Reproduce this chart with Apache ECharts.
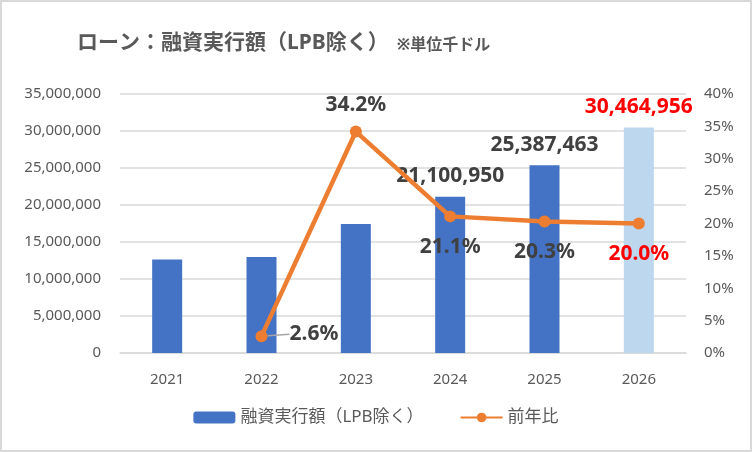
<!DOCTYPE html>
<html>
<head>
<meta charset="utf-8">
<script src="https://cdn.jsdelivr.net/npm/echarts@6/dist/echarts.min.js"></script>
<style>
  html, body { margin: 0; padding: 0; background: #fff; }
  #main { width: 752px; height: 452px; box-sizing: border-box; border: 2px solid #d9d9d9; }
</style>
</head>
<body>
<div id="main"></div>
<script>
var chartDom = document.getElementById("main");
var myChart = echarts.init(chartDom);
var option;

const years = ["2021", "2022", "2023", "2024", "2025", "2026"];
const amounts = [12650000, 12980000, 17420000, 21100950, 25387463, 30464956];
const growth = [null, 0.026, 0.342, 0.211, 0.203, 0.2];
const leftTicks = [0, 35000000, 5000000];
const rightTicks = [0, 0.4, 0.05];

const font = '"Noto Sans", "Noto Sans CJK JP", sans-serif';
const textGray = "#595959";
const dark = "#404040";
const red = "#FF0000";

// bars: last year is a forecast (light colour, red label); labels only from 2024
const barData = amounts.map(function (v, i) {
  const last = i === amounts.length - 1;
  return {
    value: v,
    itemStyle: { color: last ? "#BDD7EE" : "#4472C4" },
    label: {
      show: i >= 3,
      color: last ? red : dark,
    },
  };
});

const linePos = ["bottom", "right", "top", "bottom", "bottom", "bottom"];
const lineData = growth.map(function (v, i) {
  const last = i === growth.length - 1;
  return {
    value: v === null ? "-" : v,
    label: {
      show: v !== null,
      position: linePos[i],
      distance: linePos[i] === "right" ? 4 : linePos[i] === "top" ? 10 : 14,
      color: last ? red : dark,
    },
    labelLine: { show: linePos[i] === "right" },
  };
});

option = {
  textStyle: { fontFamily: font },
  title: {
    text: "{m|ローン：融資実行額（LPB除く）}{s|※単位千ドル}",
    left: 70,
    top: 26,
    textStyle: {
      rich: {
        m: { fontSize: 21, fontWeight: "bold", color: textGray, fontFamily: font },
        s: { fontSize: 16, color: textGray, fontFamily: font, padding: [3, 0, 0, 8] },
      },
    },
  },
  legend: {
    bottom: 19,
    left: "center",
    itemWidth: 42,
    itemHeight: 12,
    itemGap: 36,
    textStyle: { fontSize: 17, color: textGray, fontFamily: font },
    data: ["融資実行額（LPB除く）", "前年比"],
  },
  grid: { left: 118, right: 64, top: 92, bottom: 97, containLabel: false },
  xAxis: {
    type: "category",
    data: years,
    axisTick: { show: false },
    axisLine: { lineStyle: { color: "#d9d9d9", width: 1.5 } },
    axisLabel: { color: textGray, fontSize: 15, margin: 19 },
  },
  yAxis: [
    {
      type: "value",
      min: leftTicks[0],
      max: leftTicks[1],
      interval: leftTicks[2],
      axisLine: { show: false },
      axisTick: { show: false },
      splitLine: { lineStyle: { color: "#d9d9d9", width: 1.5 } },
      axisLabel: {
        color: textGray,
        fontSize: 15,
        margin: 19,
        formatter: function (v) {
          return v.toLocaleString("en-US");
        },
      },
    },
    {
      type: "value",
      min: rightTicks[0],
      max: rightTicks[1],
      interval: rightTicks[2],
      axisLine: { show: false },
      axisTick: { show: false },
      splitLine: { show: false },
      axisLabel: {
        color: textGray,
        fontSize: 15,
        margin: 18,
        formatter: function (v) {
          return Math.round(v * 100) + "%";
        },
      },
    },
  ],
  series: [
    {
      name: "融資実行額（LPB除く）",
      type: "bar",
      barWidth: 30,
      itemStyle: { color: "#4472C4" },
      label: {
        position: "top",
        distance: 10,
        fontSize: 21,
        fontWeight: "bold",
        fontFamily: font,
        formatter: function (p) {
          return p.value.toLocaleString("en-US");
        },
      },
      data: barData,
      z: 1,
    },
    {
      name: "前年比",
      type: "line",
      yAxisIndex: 1,
      symbol: "circle",
      symbolSize: 12,
      lineStyle: { color: "#ED7D31", width: 4.5 },
      itemStyle: { color: "#ED7D31" },
      label: {
        fontSize: 21,
        fontWeight: "bold",
        fontFamily: font,
        formatter: function (p) {
          return (p.value * 100).toFixed(1) + "%";
        },
      },
      labelLine: { lineStyle: { color: "#a6a6a6", width: 1.5 } },
      labelLayout: function (p) {
        return p.dataIndex === 1 ? { dx: 18, dy: -2 } : {};
      },
      data: lineData,
      z: 2,
    },
  ],
};

option && myChart.setOption(option);
</script>
</body>
</html>
